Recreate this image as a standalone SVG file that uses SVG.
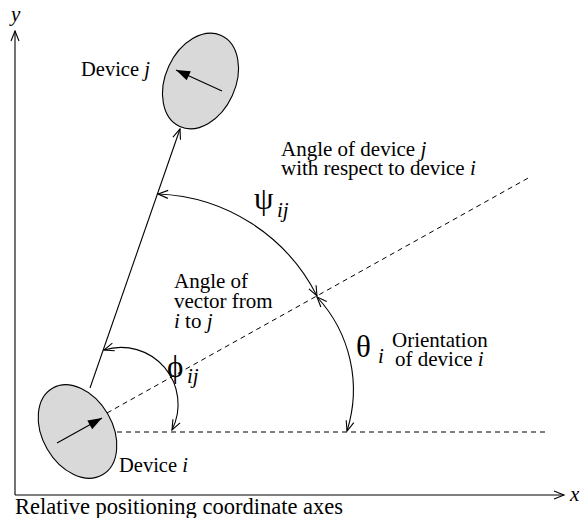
<svg xmlns="http://www.w3.org/2000/svg" width="582" height="518" viewBox="0 0 582 518" font-family="'Liberation Serif', 'DejaVu Serif', serif">
<style>
text{font-family:'Liberation Serif','DejaVu Serif',serif;fill:#000}
.t{font-size:21px}
.it{font-style:italic}
.ln{fill:none;stroke:#000;stroke-width:1.1}
.dash{fill:none;stroke:#000;stroke-width:1;stroke-dasharray:5 4}
.dev{fill:#d9d9d9;stroke:#000;stroke-width:1.1}
.gk{font-size:31px}
.sub{font-size:21px;font-style:italic}
</style>
<defs>
<marker id="open" markerUnits="userSpaceOnUse" markerWidth="12" markerHeight="10" refX="10" refY="4" orient="auto-start-reverse" overflow="visible">
<path d="M0,0 L10,4 L0,8" fill="none" stroke="#000" stroke-width="1.1"/>
</marker>
<marker id="solid" markerUnits="userSpaceOnUse" markerWidth="16" markerHeight="12" refX="14" refY="5" orient="auto" overflow="visible">
<path d="M0,0 L14,5 L0,10 z" fill="#000"/>
</marker>
</defs>
<rect width="582" height="518" fill="#fff"/>
<g id="axes">
<line class="ln" x1="15" y1="495" x2="15" y2="31" marker-end="url(#open)"/>
<line class="ln" x1="15" y1="495" x2="564" y2="495" marker-end="url(#open)"/>
<text class="it" x="11" y="21" font-size="21">y</text>
<text class="it" x="570" y="501" font-size="21">x</text>
</g>
<g id="connectors">
<line class="dash" x1="117" y1="432" x2="547" y2="432"/>
<line class="dash" x1="107" y1="413" x2="530" y2="177"/>
<line class="ln" x1="90" y1="388" x2="180" y2="129" marker-end="url(#open)"/>
<path class="ln" d="M317 296 A186 186 0 0 0 158 194" marker-start="url(#open)" marker-end="url(#open)"/>
<path class="ln" d="M317 297 A136.5 136.5 0 0 1 347 431" marker-start="url(#open)" marker-end="url(#open)"/>
<path class="ln" d="M104 350 A57 57 0 0 1 172 430" marker-start="url(#open)" marker-end="url(#open)"/>
</g>
<g id="device-i">
<ellipse class="dev" cx="77.5" cy="431.5" rx="35" ry="50" transform="rotate(-30 77.5 431.5)"/>
<line class="ln" x1="57" y1="443" x2="102" y2="418" marker-end="url(#solid)"/>
<text x="119" y="472" font-size="20.5">Device<tspan class="it"> i</tspan></text>
</g>
<g id="device-j">
<ellipse class="dev" cx="200.5" cy="81" rx="35" ry="50" transform="rotate(24.5 200.5 81)"/>
<line class="ln" x1="222" y1="91" x2="176" y2="70" marker-end="url(#solid)"/>
<text x="81" y="76" font-size="20.5">Device<tspan class="it"> j</tspan></text>
</g>
<g id="labels">
<text class="t" x="281" y="156">Angle of device<tspan class="it"> j</tspan><tspan x="281" y="175">with respect to device</tspan><tspan class="it"> i</tspan></text>
<text class="gk" x="254" y="209">ψ<tspan class="sub" x="277" y="217">ij</tspan></text>
<text class="t" x="174" y="288">Angle of<tspan x="174" y="308">vector from</tspan><tspan class="it" x="174" y="328">i</tspan> to<tspan class="it"> j</tspan></text>
<text class="gk" x="167" y="377">ϕ<tspan class="sub" x="187" y="383">ij</tspan></text>
<text class="gk" x="356" y="357">θ<tspan class="sub" x="378" y="363">i</tspan></text>
<text class="t" x="392" y="347">Orientation<tspan x="395" y="366">of device</tspan><tspan class="it"> i</tspan></text>
<text x="15" y="514" font-size="22.5">Relative positioning coordinate axes</text>
</g>
</svg>
